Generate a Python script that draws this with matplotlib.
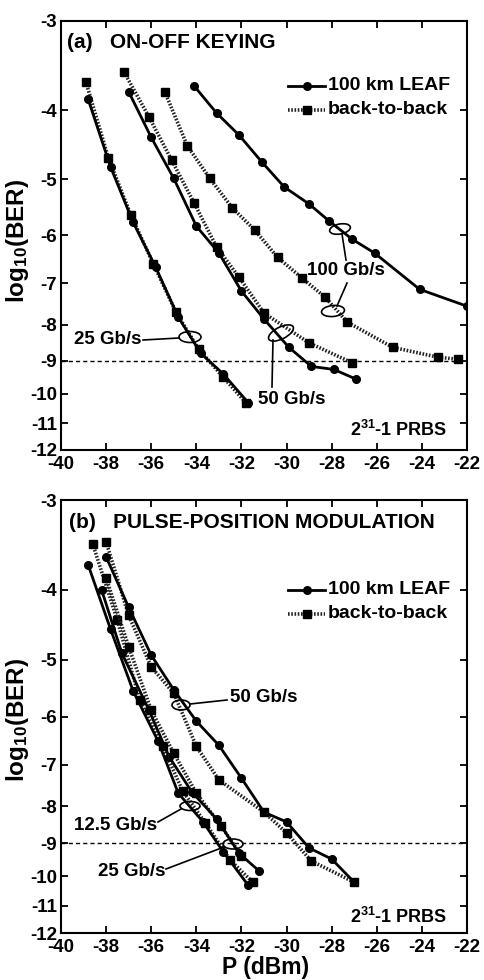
import numpy as np
import matplotlib
matplotlib.use("Agg")
import matplotlib.pyplot as plt
from matplotlib.patches import Ellipse
from matplotlib.lines import Line2D

plt.rcParams['font.family'] = ['Liberation Sans', 'DejaVu Sans']
plt.rcParams['font.weight'] = 'bold'
plt.rcParams['axes.unicode_minus'] = False
plt.rcParams['mathtext.fontset'] = 'custom'
plt.rcParams['mathtext.rm'] = 'Liberation Sans:bold'
plt.rcParams['mathtext.bf'] = 'Liberation Sans:bold'
plt.rcParams['mathtext.default'] = 'bf'
plt.rcParams['lines.scale_dashes'] = True

# ---------------- data: panel (a) ON-OFF KEYING ----------------
ook_25_b2b_x = [-38.9, -37.9, -36.9, -35.9, -34.9, -33.9, -32.8, -31.8]
ook_25_b2b_y = [-3.65, -4.67, -5.62, -6.58, -7.69, -8.66, -9.49, -10.3]
ook_25_leaf_x = [-38.8, -37.8, -36.8, -35.8, -34.8, -33.8, -32.8, -31.7]
ook_25_leaf_y = [-3.86, -4.81, -5.75, -6.65, -7.81, -8.78, -9.39, -10.3]

ook_50_b2b_x = [-37.2, -36.1, -35.1, -34.1, -33.1, -32.1, -31.0, -29.0, -27.1]
ook_50_b2b_y = [-3.54, -4.09, -4.70, -5.40, -6.23, -6.87, -7.71, -8.49, -9.05]
ook_50_leaf_x = [-37.0, -36.0, -35.0, -34.0, -33.0, -32.0, -31.0, -29.9, -28.9, -27.9, -26.9]
ook_50_leaf_y = [-3.77, -4.37, -4.99, -5.82, -6.35, -7.18, -7.86, -8.61, -9.16, -9.25, -9.55]

ook_100_b2b_x = [-35.4, -34.4, -33.4, -32.4, -31.4, -30.4, -29.3, -28.3, -27.3, -25.3, -23.3, -22.4]
ook_100_b2b_y = [-3.77, -4.49, -4.99, -5.49, -5.90, -6.44, -6.89, -7.32, -7.94, -8.61, -8.89, -8.95]
ook_100_leaf_x = [-34.1, -33.1, -32.1, -31.1, -30.1, -29.0, -28.1, -27.1, -26.1, -24.1, -22.0]
ook_100_leaf_y = [-3.70, -4.04, -4.34, -4.73, -5.13, -5.42, -5.73, -6.07, -6.35, -7.14, -7.54]

# ---------------- data: panel (b) PULSE-POSITION MODULATION ----------------
ppm_12_leaf_x = [-38.8, -37.8, -36.8, -35.7, -34.8, -33.7, -32.8, -31.7]
ppm_12_leaf_y = [-3.69, -4.54, -5.53, -6.49, -7.67, -8.41, -9.26, -10.3]
ppm_12_b2b_x = [-38.6, -37.5, -36.5, -35.5, -34.6, -33.6, -32.5, -31.5]
ppm_12_b2b_y = [-3.45, -4.41, -5.70, -6.60, -7.62, -8.44, -9.50, -10.2]

ppm_25_leaf_x = [-38.2, -37.3, -36.1, -35.2, -34.2, -33.1, -32.1, -31.2]
ppm_25_leaf_y = [-4.00, -4.90, -5.88, -6.83, -7.64, -8.33, -9.30, -9.85]
ppm_25_b2b_x = [-38.0, -37.0, -36.0, -35.0, -34.0, -32.9, -32.0]
ppm_25_b2b_y = [-3.85, -4.80, -5.88, -6.75, -7.67, -8.52, -9.37]

ppm_50_b2b_x = [-38.0, -37.0, -36.0, -35.0, -34.0, -33.0, -31.0, -30.0, -28.9, -27.0]
ppm_50_b2b_y = [-3.43, -4.34, -5.12, -5.57, -6.60, -7.35, -8.15, -8.71, -9.53, -10.2]
ppm_50_leaf_x = [-38.0, -37.0, -36.0, -35.0, -34.0, -33.0, -32.0, -31.0, -30.0, -29.0, -28.0, -27.0]
ppm_50_leaf_y = [-3.60, -4.23, -4.93, -5.51, -6.09, -6.58, -7.31, -8.15, -8.41, -9.14, -9.47, -10.2]

x_ticks = [-40, -38, -36, -34, -32, -30, -28, -26, -24, -22]
y_ticks = [-3, -4, -5, -6, -7, -8, -9, -10, -11, -12]
legend_labels = ['100 km LEAF', 'back-to-back']

# ---------------- figure ----------------
W, H = 484, 980
fig = plt.figure(figsize=(W / 100, H / 100), dpi=100)

AX_L, AX_R = 61, 467


def make_axes(top, bottom):
    return fig.add_axes([AX_L / W, 1 - bottom / H, (AX_R - AX_L) / W, (bottom - top) / H])


def fwd(y):
    y = np.asarray(y, dtype=float)
    with np.errstate(invalid='ignore', divide='ignore'):
        return -np.log10(np.clip(-y, 1e-6, None))


def inv(t):
    return -10 ** (-np.asarray(t, dtype=float))


solid_kw = dict(color='black', lw=2.0, marker='o', ms=5.5, mfc='black', mec='black')
dot_kw = dict(color='#222222', lw=2.6, ls=(0, (0.45, 0.45)), marker='s', ms=6, mfc='black', mec='black')

PANELS = [(21, 450), (500, 933)]


def style(ax, top, bottom, label_center):
    ax.set_yscale('function', functions=(fwd, inv))
    ax.set_xlim(-40, -22)
    ax.set_ylim(-12, -3)
    ax.set_xticks(x_ticks)
    ax.set_yticks(y_ticks)
    ax.set_xticklabels([str(v) for v in x_ticks])
    ax.set_yticklabels([str(v) for v in y_ticks])
    ax.minorticks_off()
    ax.tick_params(direction='in', length=5, width=1.3, top=True, right=True,
                   labelsize=13.5, pad=3)
    ax.tick_params(axis='x', pad=4)
    for lab in ax.get_xticklabels() + ax.get_yticklabels():
        lab.set_fontweight('bold')
    for s in ax.spines.values():
        s.set_linewidth(1.5)
    ax.axhline(-9, color='black', lw=1.0, ls=(0, (3, 2.2)), zorder=1)
    ax.set_ylabel(r'log$_{10}$(BER)', fontsize=17.5, fontweight='bold')
    ax.yaxis.set_label_coords((31 - AX_L) / (AX_R - AX_L), (bottom - label_center) / (bottom - top))


def P(top, bottom, px, py):
    return ((px - AX_L) / (AX_R - AX_L), (bottom - py) / (bottom - top))


def ellipse(ax, top, bottom, cx, cy, w, h, ang=0):
    x, y = P(top, bottom, cx, cy)
    e = Ellipse((x, y), w / (AX_R - AX_L), h / (bottom - top), angle=ang,
                transform=ax.transAxes, fill=False, ec='black', lw=1.2, zorder=6)
    ax.add_patch(e)


def seg(ax, top, bottom, p1, p2):
    a = P(top, bottom, *p1)
    b = P(top, bottom, *p2)
    ax.plot([a[0], b[0]], [a[1], b[1]], transform=ax.transAxes, color='black', lw=1.2, zorder=6)


def text(ax, top, bottom, px, py, s, ha='left', size=13.5):
    x, y = P(top, bottom, px, py)
    ax.text(x, y, s, transform=ax.transAxes, ha=ha, va='center', fontsize=size,
            fontweight='bold', zorder=7)


def legend(ax, top, bottom, y1, y2):
    for yy, kw, lab in [(y1, solid_kw, legend_labels[0]), (y2, dot_kw, legend_labels[1])]:
        a = P(top, bottom, 288, yy)
        b = P(top, bottom, 325, yy)
        m = P(top, bottom, 306.5, yy)
        ax.add_line(Line2D([a[0], b[0]], [a[1], b[1]], transform=ax.transAxes,
                           color=kw['color'], lw=kw['lw'], ls=kw['ls'] if 'ls' in kw else '-'))
        ax.add_line(Line2D([m[0]], [m[1]], transform=ax.transAxes, marker=kw['marker'],
                           ms=kw['ms'], mfc='black', mec='black', ls='none'))
        text(ax, top, bottom, 328, yy, lab, size=14)


# ---------------- panel (a) ----------------
t, b = PANELS[0]
axa = make_axes(t, b)
style(axa, t, b, 241)
axa.plot(ook_25_b2b_x, ook_25_b2b_y, **dot_kw)
axa.plot(ook_25_leaf_x, ook_25_leaf_y, **solid_kw)
axa.plot(ook_50_b2b_x, ook_50_b2b_y, **dot_kw)
axa.plot(ook_50_leaf_x, ook_50_leaf_y, **solid_kw)
axa.plot(ook_100_b2b_x, ook_100_b2b_y, **dot_kw)
axa.plot(ook_100_leaf_x, ook_100_leaf_y, **solid_kw)
axa.set_xlabel('')

text(axa, t, b, 67, 43, '(a)   ON-OFF KEYING', size=15)
legend(axa, t, b, 86, 110)
text(axa, t, b, 142, 340, '25 Gb/s', ha='right')
seg(axa, t, b, (143, 340), (179, 338))
ellipse(axa, t, b, 190, 337, 22, 11)
text(axa, t, b, 292, 400, '50 Gb/s', ha='center')
seg(axa, t, b, (272, 387), (273, 340))
ellipse(axa, t, b, 281, 333, 27, 12, 25)
text(axa, t, b, 346, 271, '100 Gb/s', ha='center')
seg(axa, t, b, (346, 260), (342, 234))
ellipse(axa, t, b, 340, 229, 21, 10, 10)
seg(axa, t, b, (347, 283), (337, 306))
ellipse(axa, t, b, 333, 311, 23, 11, 5)
text(axa, t, b, 447, 430, r'2$^{31}$-1 PRBS', ha='right', size=13)

# ---------------- panel (b) ----------------
t, b = PANELS[1]
axb = make_axes(t, b)
style(axb, t, b, 720)
axb.plot(ppm_12_b2b_x, ppm_12_b2b_y, **dot_kw)
axb.plot(ppm_12_leaf_x, ppm_12_leaf_y, **solid_kw)
axb.plot(ppm_25_b2b_x, ppm_25_b2b_y, **dot_kw)
axb.plot(ppm_25_leaf_x, ppm_25_leaf_y, **solid_kw)
axb.plot(ppm_50_b2b_x, ppm_50_b2b_y, **dot_kw)
axb.plot(ppm_50_leaf_x, ppm_50_leaf_y, **solid_kw)
axb.set_xlabel('P (dBm)', fontsize=16.5, fontweight='bold')
axb.xaxis.label.set_va('center')
axb.xaxis.set_label_coords(0.505, -(967 - b) / (b - t))

text(axb, t, b, 69, 523, '(b)   PULSE-POSITION MODULATION', size=15)
legend(axb, t, b, 590, 614)
text(axb, t, b, 230, 698, '50 Gb/s')
seg(axb, t, b, (227, 700), (190, 704))
ellipse(axb, t, b, 181, 705, 18, 10)
text(axb, t, b, 157, 826, '12.5 Gb/s', ha='right')
seg(axb, t, b, (158, 822), (181, 809))
ellipse(axb, t, b, 190, 806, 20, 9)
text(axb, t, b, 165, 872, '25 Gb/s', ha='right')
seg(axb, t, b, (166, 869), (224, 847))
ellipse(axb, t, b, 233, 844, 20, 10)
text(axb, t, b, 447, 917, r'2$^{31}$-1 PRBS', ha='right', size=13)

fig.savefig('out.png', dpi=100)
